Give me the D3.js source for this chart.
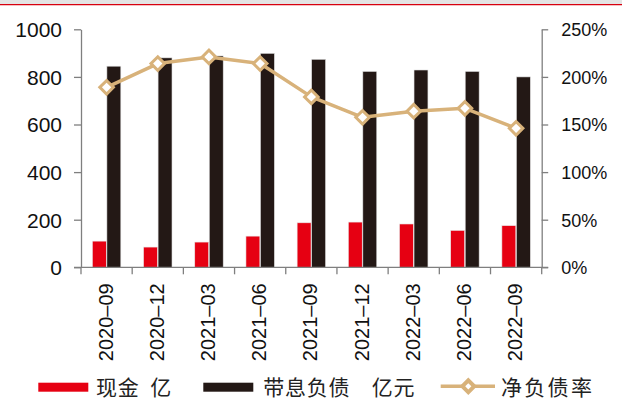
<!DOCTYPE html>
<html>
<head>
<meta charset="utf-8">
<script src="https://cdn.jsdelivr.net/npm/d3@7/dist/d3.min.js"></script>
<style>
  html, body { margin: 0; padding: 0; background: #fff; }
  svg { display: block; }
  .num { font-family: "Liberation Sans", Arial, sans-serif; fill: #111; }
  .cjk { font-family: "Noto Sans CJK SC", sans-serif; fill: #222; white-space: pre; }
</style>
</head>
<body>
<svg id="chart" width="622" height="403"></svg>
<script>
// Quarterly periods
const categories = ["2020-09", "2020-12", "2021-03", "2021-06", "2021-09", "2021-12", "2022-03", "2022-06", "2022-09"];
// Cash (亿)
const cash = [110, 85, 106, 131, 187, 190, 182, 155, 175];
// Interest-bearing debt (亿元)
const debt = [845, 880, 888, 899, 874, 823, 829, 823, 800];
// Net debt ratio (%)
const netDebtRatio = [189, 214, 221, 214, 179, 157.5, 164, 167, 146];
// Axis ticks
const leftTicks = [0, 200, 400, 600, 800, 1000];
const rightTicks = [0, 50, 100, 150, 200, 250];

const RED = "#E60012", DARK = "#231815", TAN = "#D8B27A", AXIS = "#7f7f7f";

const svg = d3.select("#chart");

// top banner strip
svg.append("rect").attr("x", 0).attr("y", 0).attr("width", 622).attr("height", 4).attr("fill", "#e4e4e4");
svg.append("line").attr("x1", 0).attr("x2", 622).attr("y1", 4.6).attr("y2", 4.6)
  .attr("stroke", "#D7000F").attr("stroke-width", 1.4);

const plotLeft = 81, plotRight = 541.7, plotTop = 29.3, plotBottom = 267.3;

const x = d3.scaleBand().domain(categories).range([plotLeft, plotRight]).padding(0);
const yL = d3.scaleLinear().domain([0, 1000]).range([plotBottom, plotTop]);
const yR = d3.scaleLinear().domain([0, 250]).range([plotBottom, plotTop]);
const bw = x.bandwidth();
const cx = d => x(d) + bw / 2;

// bars: cash (red) left of centre, debt (dark) right of centre
const barW = bw * 0.272;
svg.append("g").selectAll("rect").data(categories).join("rect")
  .attr("x", d => cx(d) - barW - 0.3)
  .attr("y", (d, i) => yL(cash[i]))
  .attr("width", barW)
  .attr("height", (d, i) => yL(0) - yL(cash[i]))
  .attr("fill", RED).attr("stroke", "#e8e8e8").attr("stroke-width", 0.6);

svg.append("g").selectAll("rect").data(categories).join("rect")
  .attr("x", d => cx(d) + 0.3)
  .attr("y", (d, i) => yL(debt[i]))
  .attr("width", barW)
  .attr("height", (d, i) => yL(0) - yL(debt[i]))
  .attr("fill", DARK).attr("stroke", "#e0e0e0").attr("stroke-width", 0.6);

// left axis
const gL = svg.append("g").attr("transform", `translate(${plotLeft},0)`)
  .call(d3.axisLeft(yL).tickValues(leftTicks).tickSize(7).tickSizeOuter(0).tickPadding(12)
    .tickFormat(d3.format("d")));
gL.selectAll("text").attr("class", "num").attr("font-size", 21).attr("dy", "0.35em");

// right axis
const gR = svg.append("g").attr("transform", `translate(${plotRight},0)`)
  .call(d3.axisRight(yR).tickValues(rightTicks).tickSize(6.5).tickSizeOuter(0).tickPadding(13)
    .tickFormat(d => d + "%"));
gR.selectAll("text").attr("class", "num").attr("font-size", 18).attr("dy", "0.35em");

// bottom axis: baseline, boundary ticks and rotated labels
const gB = svg.append("g");
gB.append("line").attr("x1", plotLeft - 7).attr("x2", plotRight + 6.5).attr("y1", plotBottom).attr("y2", plotBottom);
const bounds = categories.map(d => x(d)).concat([plotRight]);
gB.selectAll("line.tick").data(bounds).join("line").attr("class", "tick")
  .attr("x1", d => d).attr("x2", d => d).attr("y1", plotBottom).attr("y2", plotBottom + 7);
gB.selectAll("text").data(categories).join("text")
  .attr("class", "num").attr("font-size", 20)
  .attr("text-anchor", "end")
  .attr("transform", d => `translate(${cx(d) - 1},${plotBottom + 16}) rotate(-90)`)
  .attr("dy", "0.35em")
  .text(d => d.replace("-", "\u2013"));

svg.selectAll(".domain, .tick line").attr("stroke", AXIS).attr("stroke-width", 1.3);
gB.selectAll("line").attr("stroke", AXIS).attr("stroke-width", 1.3);

// net debt ratio line with hollow diamond markers
const line = d3.line().x((d, i) => cx(categories[i])).y(d => yR(d));
svg.append("path").datum(netDebtRatio).attr("d", line)
  .attr("fill", "none").attr("stroke", TAN).attr("stroke-width", 3.5).attr("stroke-linejoin", "round");

const diamond = d3.symbol().type(d3.symbolSquare).size(92);
svg.append("g").selectAll("path").data(netDebtRatio).join("path")
  .attr("d", diamond)
  .attr("transform", (d, i) => `translate(${cx(categories[i])},${yR(d)}) rotate(45)`)
  .attr("fill", "#fff").attr("stroke", TAN).attr("stroke-width", 3);

// legend
const lg = svg.append("g");
const ly = 387.2;
lg.append("rect").attr("x", 38.3).attr("y", 382.7).attr("width", 50).attr("height", 9).attr("fill", RED);
lg.append("text").attr("class", "cjk").attr("x", 96).attr("y", ly).attr("dy", "0.36em")
  .attr("font-size", 21).attr("letter-spacing", 0.7).text("现金  亿");

lg.append("rect").attr("x", 203.3).attr("y", 382.7).attr("width", 50).attr("height", 9).attr("fill", DARK);
lg.append("text").attr("class", "cjk").attr("x", 263.3).attr("y", ly).attr("dy", "0.36em")
  .attr("font-size", 21).attr("letter-spacing", 0.7).text("带息负债    亿元");

lg.append("line").attr("x1", 440.7).attr("x2", 495).attr("y1", 386.3).attr("y2", 386.3)
  .attr("stroke", TAN).attr("stroke-width", 3.5);
lg.append("path").attr("d", d3.symbol().type(d3.symbolSquare).size(70)())
  .attr("transform", "translate(468.3,386.3) rotate(45)")
  .attr("fill", "#fff").attr("stroke", TAN).attr("stroke-width", 4);
lg.append("text").attr("class", "cjk").attr("x", 501).attr("y", ly).attr("dy", "0.36em")
  .attr("font-size", 21).attr("letter-spacing", 2.3).text("净负债率");
</script>
</body>
</html>
